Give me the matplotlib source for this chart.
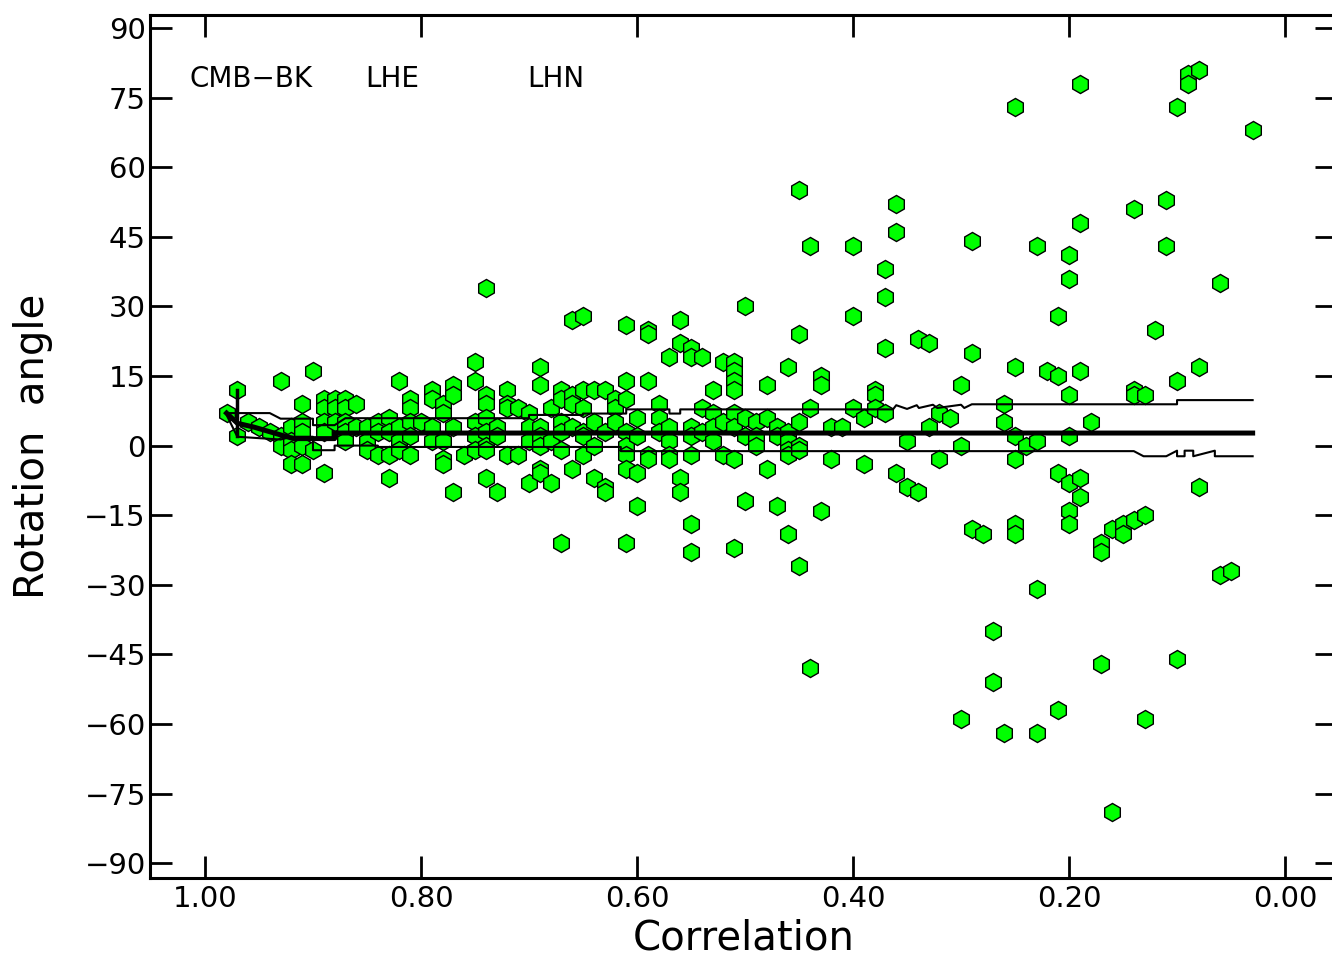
import numpy as np
import matplotlib
matplotlib.use('Agg')
import matplotlib.pyplot as plt
from matplotlib.ticker import FormatStrFormatter

# correlation / rotation angle pairs
corr = [0.98, 0.97, 0.97, 0.96, 0.95, 0.94, 0.93, 0.93, 0.93,
        0.92, 0.92, 0.92, 0.92,
        0.91, 0.91, 0.91, 0.91, 0.91,
        0.90, 0.90,
        0.89, 0.89, 0.89, 0.89, 0.89,
        0.88, 0.88, 0.88,
        0.87, 0.87, 0.87, 0.87, 0.87,
        0.86, 0.86,
        0.85, 0.85, 0.85,
        0.84, 0.84, 0.84,
        0.83, 0.83, 0.83, 0.83,
        0.82, 0.82, 0.82, 0.82,
        0.81, 0.81, 0.81, 0.81, 0.81,
        0.80,
        0.79, 0.79, 0.79, 0.79,
        0.78, 0.78, 0.78, 0.78, 0.78,
        0.77, 0.77, 0.77, 0.77,
        0.76,
        0.75, 0.75, 0.75, 0.75, 0.75,
        0.74, 0.74, 0.74, 0.74, 0.74, 0.74, 0.74, 0.74,
        0.73, 0.73, 0.73,
        0.72, 0.72, 0.72, 0.72,
        0.71, 0.71,
        0.70, 0.70, 0.70, 0.70,
        0.69, 0.69, 0.69, 0.69, 0.69, 0.69, 0.69,
        0.68, 0.68, 0.68,
        0.67, 0.67, 0.67, 0.67, 0.67, 0.67,
        0.66, 0.66, 0.66, 0.66, 0.66,
        0.65, 0.65, 0.65, 0.65, 0.65, 0.65,
        0.64, 0.64, 0.64, 0.64,
        0.63, 0.63, 0.63, 0.63,
        0.62, 0.62, 0.62,
        0.61, 0.61, 0.61, 0.61, 0.61, 0.61, 0.61, 0.61,
        0.60, 0.60, 0.60, 0.60,
        0.59, 0.59, 0.59, 0.59, 0.59,
        0.58, 0.58, 0.58,
        0.57, 0.57, 0.57, 0.57, 0.57,
        0.56, 0.56, 0.56, 0.56,
        0.55, 0.55, 0.55, 0.55, 0.55, 0.55, 0.55,
        0.54, 0.54, 0.54,
        0.53, 0.53, 0.53, 0.53,
        0.52, 0.52, 0.52,
        0.51, 0.51, 0.51, 0.51, 0.51, 0.51, 0.51, 0.51,
        0.50, 0.50, 0.50, 0.50,
        0.49, 0.49, 0.49,
        0.48, 0.48, 0.48,
        0.47, 0.47, 0.47,
        0.46, 0.46, 0.46, 0.46, 0.46, 0.46,
        0.45, 0.45, 0.45, 0.45, 0.45, 0.45,
        0.44, 0.44, 0.44,
        0.43, 0.43, 0.43,
        0.42, 0.42,
        0.41,
        0.40, 0.40, 0.40,
        0.39, 0.39,
        0.38, 0.38, 0.38,
        0.37, 0.37, 0.37, 0.37,
        0.36, 0.36, 0.36,
        0.35, 0.35,
        0.34, 0.34,
        0.33, 0.33,
        0.32, 0.32,
        0.31,
        0.30, 0.30, 0.30,
        0.29, 0.29, 0.29,
        0.28,
        0.27, 0.27,
        0.26, 0.26, 0.26,
        0.25, 0.25, 0.25, 0.25, 0.25, 0.25,
        0.24,
        0.23, 0.23, 0.23, 0.23,
        0.22,
        0.21, 0.21, 0.21, 0.21,
        0.20, 0.20, 0.20, 0.20, 0.20, 0.20, 0.20,
        0.19, 0.19, 0.19, 0.19, 0.19,
        0.18,
        0.17, 0.17, 0.17,
        0.16, 0.16,
        0.15, 0.15,
        0.14, 0.14, 0.14, 0.14,
        0.13, 0.13, 0.13,
        0.12,
        0.11, 0.11,
        0.10, 0.10, 0.10,
        0.09, 0.09,
        0.08, 0.08, 0.08,
        0.06, 0.06,
        0.05,
        0.03]

angle = [7, 12, 2, 5, 4, 3, 14, 2, 0,
         4, 1, -1, -4,
         9, 5, 3, 0, -4,
         16, -1,
         10, 8, 5, 3, -6,
         10, 8, 5,
         10, 8, 5, 3, 1,
         9, 4,
         4, 1, -1,
         5, 3, -2,
         6, 3, -2, -7,
         14, 4, 1, -1,
         10, 8, 5, 2, -2,
         5,
         12, 10, 4, 1,
         9, 7, 1, -3, -4,
         13, 11, 4, -10,
         -2,
         18, 14, 5, 2, -1,
         34, 11, 9, 6, 3, 0, -1, -7,
         4, 2, -10,
         12, 9, 8, -2,
         8, -2,
         7, 4, 1, -8,
         17, 13, 4, 2, 0, -5, -6,
         8, 1, -8,
         12, 10, 5, 3, -1, -21,
         27, 11, 9, 4, -5,
         28, 12, 8, 3, 2, -2,
         12, 5, 0, -7,
         12, 3, -9, -10,
         10, 8, 5,
         26, 14, 10, 3, 0, -2, -5, -21,
         6, 2, -6, -13,
         25, 24, 14, -2, -3,
         9, 6, 3,
         19, 4, 1, -2, -3,
         27, 22, -7, -10,
         21, 19, 4, 2, -2, -17, -23,
         19, 8, 3,
         12, 7, 4, 1,
         18, 5, -2,
         18, 16, 14, 12, 7, 4, -3, -22,
         30, 6, 2, -12,
         5, 2, 0,
         13, 6, -5,
         4, 2, -13,
         17, 3, 1, -1, -2, -19,
         55, 24, 5, 0, -1, -26,
         43, 8, -48,
         15, 13, -14,
         4, -3,
         4,
         43, 28, 8,
         6, -4,
         12, 11, 8,
         38, 32, 21, 7,
         52, 46, -6,
         1, -9,
         23, -10,
         22, 4,
         7, -3,
         6,
         13, 0, -59,
         44, 20, -18,
         -19,
         -40, -51,
         9, 5, -62,
         73, 17, 2, -3, -17, -19,
         0,
         43, 1, -31, -62,
         16,
         28, 15, -6, -57,
         41, 36, 11, 2, -8, -14, -17,
         78, 48, 16, -7, -11,
         5,
         -21, -23, -47,
         -18, -79,
         -17, -19,
         51, 12, 11, -16,
         11, -15, -59,
         25,
         53, 43,
         73, 14, -46,
         80, 78,
         81, 17, -9,
         35, -28,
         -27,
         68]

# thick middle curve
mid_x = [0.98, 0.97, 0.955, 0.93, 0.918, 0.88, 0.88, 0.03]
mid_y = [7, 4.8, 4, 2.3, 1.5, 1.5, 2.7, 2.7]

# upper envelope
up_x = [0.98, 0.94, 0.93, 0.90, 0.90, 0.88, 0.87, 0.70, 0.70, 0.65, 0.65, 0.61, 0.61,
        0.57, 0.57, 0.56, 0.56, 0.363, 0.36, 0.35, 0.341, 0.339, 0.326, 0.322,
        0.30, 0.297, 0.29, 0.10, 0.10, 0.03]
up_y = [7, 7, 5.8, 5.8, 4.4, 4.4, 5.9, 5.9, 6.6, 6.6, 6.9, 6.9, 7.8,
        7.8, 6.9, 6.9, 7.8, 7.8, 8.7, 7.9, 8.7, 8.1, 8.8, 8.1,
        8.8, 8.1, 8.9, 8.9, 9.8, 9.8]

# lower envelope
lo_x = [0.98, 0.97, 0.93, 0.92, 0.90, 0.90, 0.88, 0.88, 0.84, 0.84, 0.615, 0.615,
        0.14, 0.131, 0.11, 0.10, 0.10, 0.093, 0.093, 0.085, 0.085, 0.065, 0.065, 0.03]
lo_y = [6.6, 1.9, 1.3, 1.9, 1.9, -1, -1, 0, 0, -0.3, -0.3, -1.2,
        -1.2, -2.3, -2.3, -1.1, -2.3, -2.3, -1.1, -1.1, -2.3, -1.1, -2.3, -2.3]

spike_x = [0.97, 0.97]
spike_y = [12, 2]

labels = ['CMB\u2212BK', 'LHE', 'LHN']
label_x = [1.014, 0.852, 0.702]

plt.rcParams['font.family'] = ['DejaVu Sans']

fig = plt.figure(figsize=(13.32, 9.58), dpi=100)
ax = fig.add_axes([150 / 1332, 80 / 958, 1187 / 1332, 863 / 958])

ax.plot(corr, angle, 'h', ms=13, mfc='#00ff00', mec='black', mew=1.0, zorder=2)
ax.plot(up_x, up_y, color='black', lw=1.5, zorder=3)
ax.plot(lo_x, lo_y, color='black', lw=1.5, zorder=3)
ax.plot(mid_x, mid_y, color='black', lw=3.6, zorder=4)
ax.plot(spike_x, spike_y, color='black', lw=2.5, zorder=4)

for t, x in zip(labels, label_x):
    ax.text(x, 79, t, fontsize=20, ha='left', va='center')

ax.set_xlim(1.0509, -0.0481)
ax.set_ylim(-93.2, 92.8)
ax.set_xticks(np.arange(0, 1.01, 0.2))
ax.xaxis.set_major_formatter(FormatStrFormatter('%.2f'))
ax.set_yticks(np.arange(-90, 91, 15))

ax.tick_params(direction='in', length=16, width=2, labelsize=21,
               top=True, right=True)
ax.tick_params(axis='x', pad=5)
ax.tick_params(axis='y', pad=3)
for s in ax.spines.values():
    s.set_linewidth(2.2)

ax.set_xlabel('Correlation', fontsize=29)
ax.set_ylabel('Rotation  angle', fontsize=29)
ax.xaxis.set_label_coords(0.5, -0.047)
ax.yaxis.set_label_coords(-0.082, 0.5)

fig.savefig('out.png', dpi=100)
